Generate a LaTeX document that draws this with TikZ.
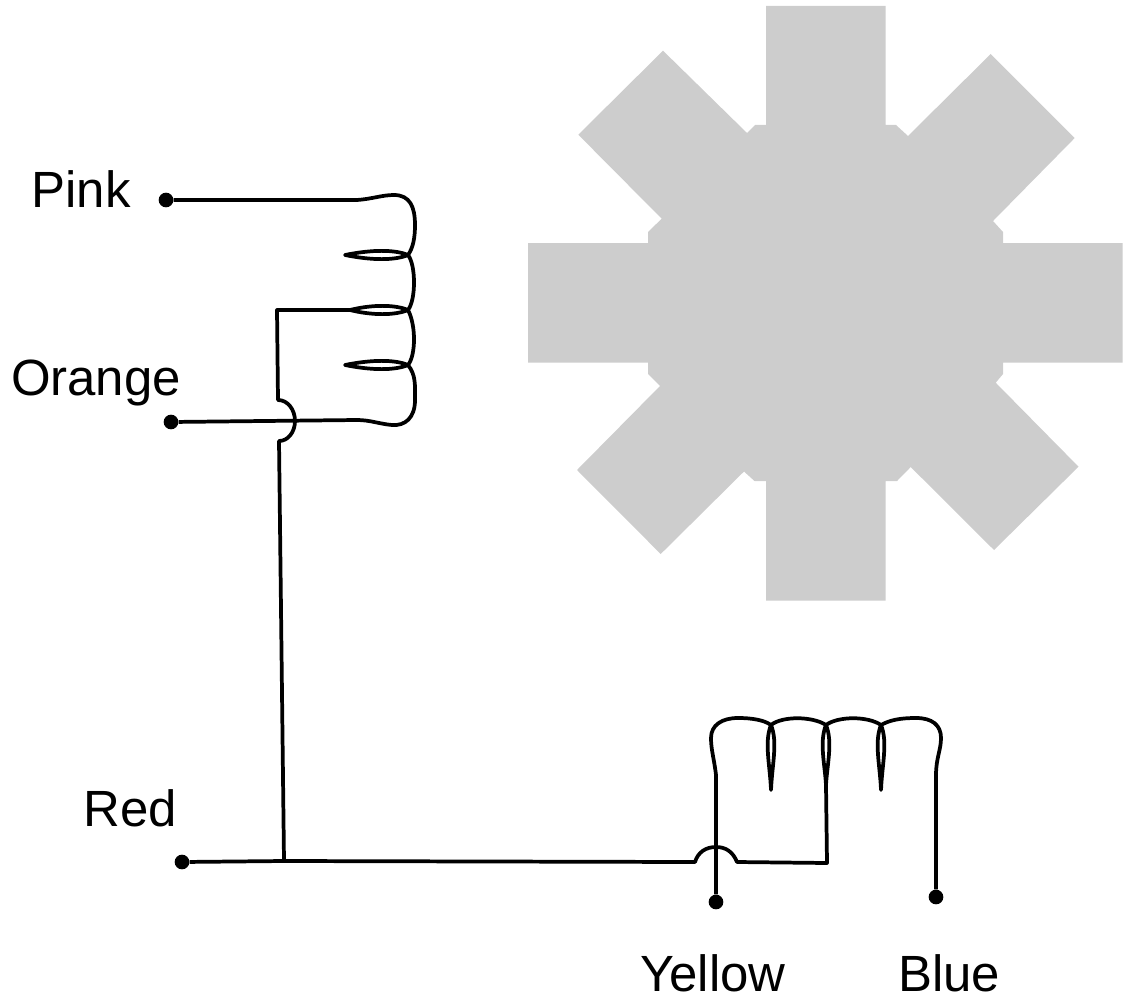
\documentclass[tikz,border=0pt]{standalone}
\usepackage{fontspec}
\setmainfont{Liberation Sans}
\tikzset{
  wire/.style={line width=2.8pt,black,line join=round},
  dot/.style={circle,fill=black,inner sep=0pt,minimum size=11pt},
  lab/.style={inner sep=0pt,font=\fontsize{38.2pt}{42pt}\selectfont,black,anchor=base},
}
\definecolor{gearcol}{HTML}{CDCDCD}
\begin{document}
\begin{tikzpicture}[x=0.75pt,y=-0.75pt]
\useasboundingbox (0,0) rectangle (1123,1002);
\fill[gearcol] (766,6) -- (766,125) -- (755,125) -- (747,133) -- (663,50.7) -- (578.3,134.7) -- (661.7,218.7) -- (648,232) -- (648,243) -- (528,243) -- (528,362.7) -- (648,362.7) -- (648,374) -- (660,386) -- (577,470) -- (660.7,554) -- (744,471.5) -- (754.5,481) -- (766,481) -- (766,600.5) -- (885.7,600.5) -- (885.7,481) -- (897,481) -- (910.7,467) -- (994,550) -- (1078.5,466.7) -- (995.7,382.7) -- (1003,374) -- (1003,362.7) -- (1122.5,362.7) -- (1122.5,243) -- (1003,243) -- (1003,232) -- (993,221) -- (1074.7,138) -- (990.7,54) -- (908,136) -- (896,125) -- (885.7,125) -- (885.7,6) -- cycle;

\node[dot] (pink) at (166,200) {};
\node[dot] (orange) at (171,422) {};
\node[dot] (red) at (182,862) {};
\node[dot] (yellow) at (716,902) {};
\node[dot] (blue) at (936,897) {};
\node[lab] (tpink) at (81,207) {Pink};
\node[lab] (torange) at (96,395) {Orange};
\node[lab] (tred) at (130,826) {Red};
\node[lab] (tyellow) at (713,991) {Yellow};
\node[lab] (tblue) at (949,991) {Blue};

\coordinate (j1) at (408,255);
\coordinate (j2) at (408,310);
\coordinate (j3) at (408,365);
\coordinate (t1) at (345,255);
\coordinate (t3) at (345,365);
\coordinate (c1) at (277,310);
\coordinate (rj) at (284,861);

% upper coil
\draw[wire] (pink) -- (357,200) .. controls (372,199) and (382,195) .. (394,195)
  .. controls (410,195) and (415,207) .. (415,225) .. controls (415,238) and (413,248) .. (j1)
  .. controls (416,265) and (416,300) .. (j2)
  .. controls (416,325) and (416,355) .. (j3)
  .. controls (416,375) and (415,385) .. (415,400) .. controls (415,418) and (405,426) .. (392,425)
  .. controls (380,424) and (370,420) .. (357,420) -- (orange);
\draw[wire] (j1) .. controls (395,249.5) and (372,249.5) .. (t1) .. controls (372,260.5) and (395,260.5) .. (j1);
\draw[wire] (j2) .. controls (395,304.5) and (372,304.5) .. (350,310) .. controls (372,315.5) and (395,315.5) .. (j2);
\draw[wire] (j3) .. controls (395,359.5) and (372,359.5) .. (t3) .. controls (372,370.5) and (395,370.5) .. (j3);
\draw[wire] (350,310) -- (c1) -- (278,400) .. controls (288,400) and (295,410) .. (295,421)
  .. controls (295,432) and (288,441) .. (279,441) -- (rj);

% lower coil
\coordinate (k1) at (771,725);
\coordinate (k2) at (826,725);
\coordinate (k3) at (881,725);
\coordinate (u1) at (771,790);
\coordinate (u2) at (826,785);
\coordinate (u3) at (881,790);
\draw[wire] (yellow) -- (716,775) .. controls (714,758) and (711,750) .. (711,738)
  .. controls (711,725) and (722,718) .. (738,718) .. controls (752,718) and (764,720) .. (k1)
  .. controls (782,716) and (812,716) .. (k2)
  .. controls (838,716) and (868,716) .. (k3)
  .. controls (890,720) and (900,718) .. (916,718) .. controls (932,718) and (941,725) .. (941,738)
  .. controls (941,750) and (936,758) .. (936,775) -- (blue);
\draw[wire] (k1) .. controls (764,742) and (770,765) .. (u1) .. controls (772,765) and (778,742) .. (k1);
\draw[wire] (k2) .. controls (819,742) and (825,765) .. (u2) .. controls (827,765) and (833,742) .. (k2);
\draw[wire] (k3) .. controls (874,742) and (880,765) .. (u3) .. controls (882,765) and (888,742) .. (k3);
\draw[wire] (red) -- (rj) -- (695,862) .. controls (698,852) and (706,847) .. (716,847)
  .. controls (726,847) and (733,852) .. (737,862) -- (827,863) -- (u2);
\end{tikzpicture}
\end{document}
